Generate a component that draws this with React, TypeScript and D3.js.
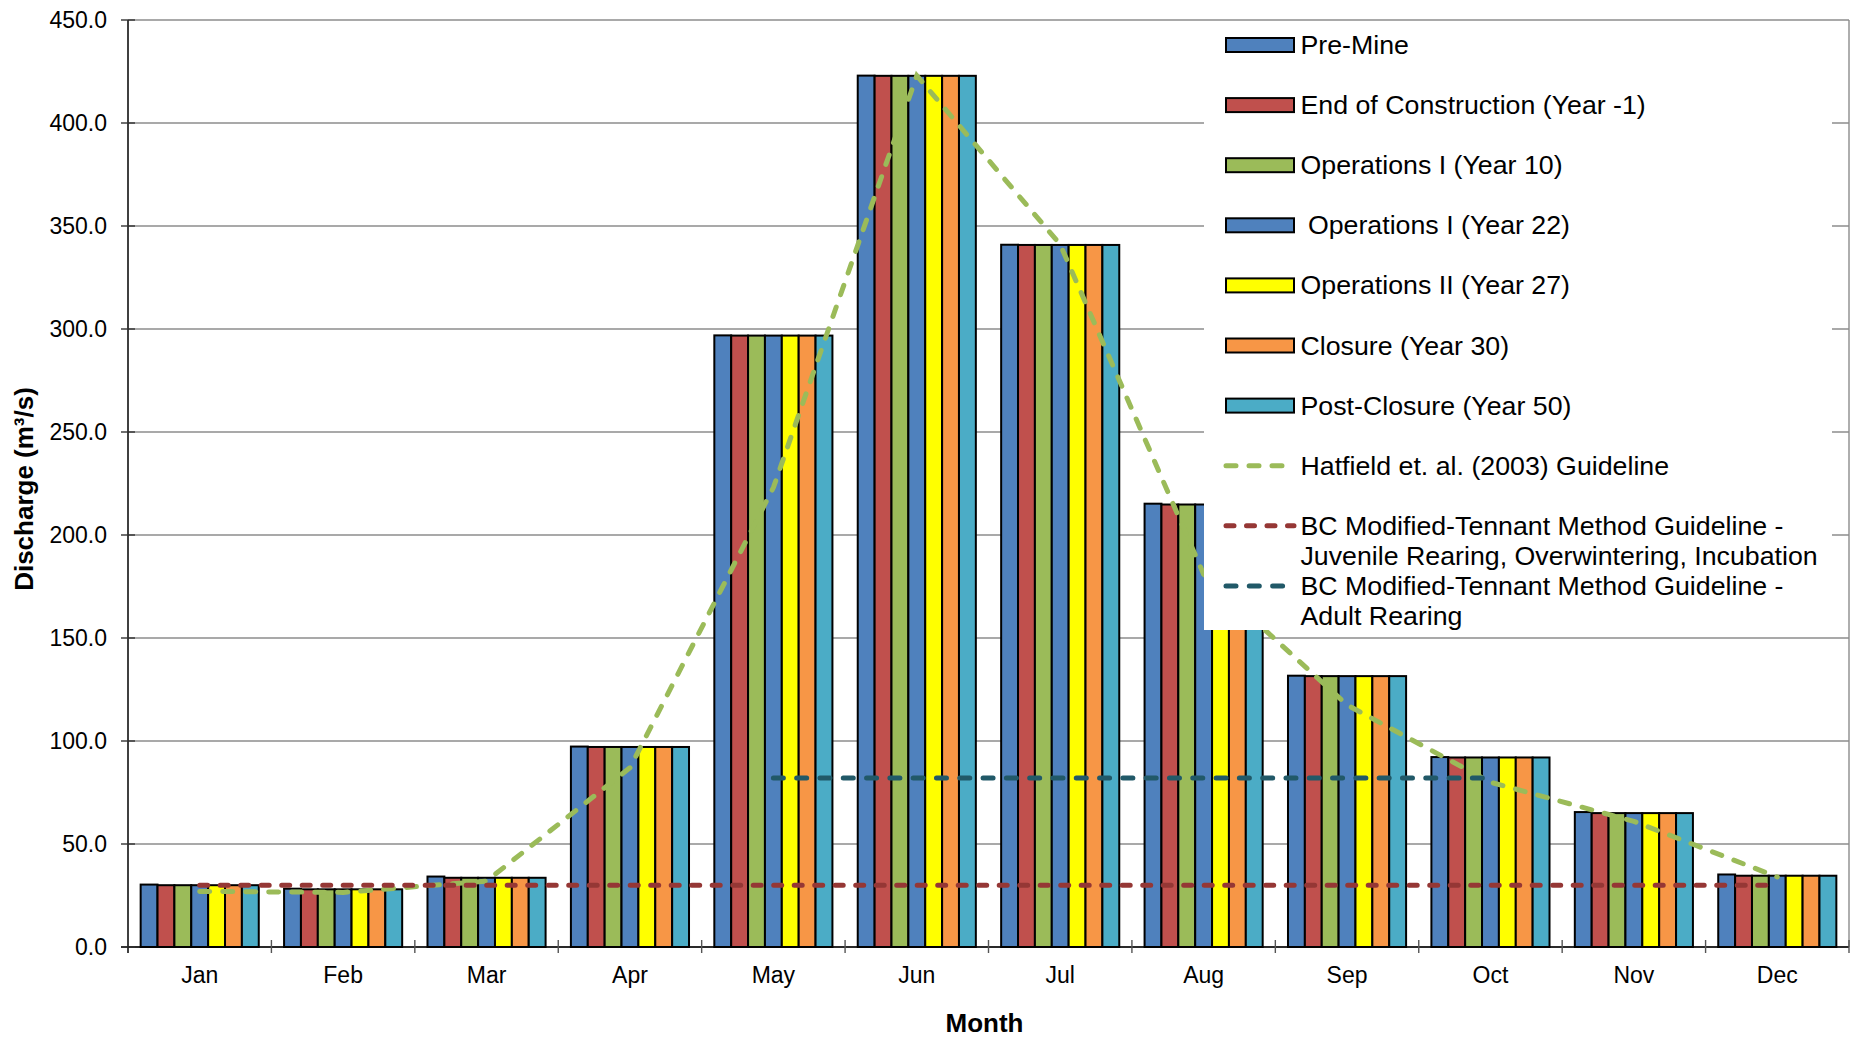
import React from "react";
import * as d3 from "d3";

const months = ["Jan", "Feb", "Mar", "Apr", "May", "Jun", "Jul", "Aug", "Sep", "Oct", "Nov", "Dec"];

const preMine = [30.3, 28.3, 34.2, 97.3, 296.9, 423.0, 340.9, 215.2, 131.7, 92.2, 65.5, 35.2];
const endOfConstruction = [30.0, 28.0, 33.6, 97.1, 296.8, 422.9, 340.8, 214.8, 131.5, 92.0, 65.0, 34.6];
const operationsY10 = [30.0, 28.0, 33.6, 97.1, 296.8, 422.9, 340.8, 214.8, 131.5, 92.0, 65.0, 34.6];
const operationsY22 = [30.0, 28.0, 33.6, 97.1, 296.8, 422.9, 340.8, 214.8, 131.5, 92.0, 65.0, 34.6];
const operationsIIY27 = [30.0, 28.0, 33.6, 97.1, 296.8, 422.9, 340.8, 214.8, 131.5, 92.0, 65.0, 34.6];
const closureY30 = [30.0, 28.0, 33.6, 97.1, 296.8, 422.9, 340.8, 214.8, 131.5, 92.0, 65.0, 34.6];
const postClosureY50 = [30.0, 28.0, 33.6, 97.1, 296.8, 422.9, 340.8, 214.8, 131.5, 92.0, 65.0, 34.6];

const hatfield = [27, 26.5, 32, 87, 223, 423, 341, 181, 117.5, 80, 61, 34];
const tennantJuvenile = [30, 30, 30, 30, 30, 30, 30, 30, 30, 30, 30, 30];
const tennantAdult: (number | null)[] = [null, null, null, null, 82, 82, 82, 82, 82, 82, null, null];

const yTicks = [0, 50, 100, 150, 200, 250, 300, 350, 400, 450];

const barSeries = [
  { name: "Pre-Mine", values: preMine, color: "#4F81BD" },
  { name: "End of Construction (Year -1)", values: endOfConstruction, color: "#C0504D" },
  { name: "Operations I (Year 10)", values: operationsY10, color: "#9BBB59" },
  { name: " Operations I (Year 22)", values: operationsY22, color: "#4F81BD" },
  { name: "Operations II (Year 27)", values: operationsIIY27, color: "#FFFF00" },
  { name: "Closure (Year 30)", values: closureY30, color: "#F79646" },
  { name: "Post-Closure (Year 50)", values: postClosureY50, color: "#4BACC6" },
];

const lineSeries = [
  { name: ["Hatfield et. al. (2003) Guideline"], values: hatfield as (number | null)[], color: "#9BBB59", dash: "10 13" },
  {
    name: ["BC Modified-Tennant Method Guideline -", "Juvenile Rearing, Overwintering, Incubation"],
    values: tennantJuvenile as (number | null)[],
    color: "#953735",
    dash: "8 12.5",
  },
  {
    name: ["BC Modified-Tennant Method Guideline -", "Adult Rearing"],
    values: tennantAdult,
    color: "#215968",
    dash: "10 13.3",
  },
];

const FONT = "'Liberation Sans', Arial, sans-serif";

function LegendText({ x, y, children }: { x: number; y: number; children: React.ReactNode }) {
  return (
    <g transform={`translate(${x},${y}) scale(1.07,1)`}>
      <text x={0} y={0} fontSize={25} fill="#000" style={{ whiteSpace: "pre" }}>
        {children}
      </text>
    </g>
  );
}

export default function App() {
  const L = 128, R = 1849, T = 20, B = 947;
  const y = d3.scaleLinear().domain([0, 450]).range([B, T]);
  const x0 = d3.scaleBand<string>().domain(months).range([L, R]).padding(0);
  const bw = x0.bandwidth();
  const gap = (bw * 0.75) / 8.5;
  const x1 = d3
    .scaleBand<string>()
    .domain(barSeries.map((s) => s.name))
    .range([gap, bw - gap])
    .padding(0);
  const cx = (m: string) => (x0(m) as number) + bw / 2;

  const lineGen = d3
    .line<number | null>()
    .defined((d) => d !== null)
    .x((_, i) => cx(months[i]))
    .y((d) => y(d as number));

  // legend
  const legL = 1204, legT = 21, legR = 1832, legB = 630;
  const swX = 1226, swW = 68, txtX = 1300.5;
  const rowY0 = 45, rowStep = 60.1;

  return (
    <svg
      width={1860}
      height={1040}
      style={{ position: "absolute", left: 0, top: 0, background: "#fff" }}
      fontFamily={FONT}
    >
      <rect x={0} y={0} width={1860} height={1040} fill="#fff" />
      {/* gridlines */}
      {yTicks.map((t) => (
        <line key={"g" + t} x1={L} x2={R} y1={y(t)} y2={y(t)} stroke="#8C8C8C" strokeWidth={1.4} />
      ))}
      {/* right border */}
      <line x1={R} x2={R} y1={T} y2={B} stroke="#8C8C8C" strokeWidth={1.4} />

      {/* bars */}
      {months.map((m, i) => (
        <g key={m} transform={`translate(${x0(m)},0)`}>
          {barSeries.map((s) => (
            <rect
              key={s.name}
              x={x1(s.name)}
              y={y(s.values[i])}
              width={x1.bandwidth()}
              height={y(0) - y(s.values[i])}
              fill={s.color}
              stroke="#000"
              strokeWidth={2}
            />
          ))}
        </g>
      ))}

      {/* lines */}
      {lineSeries.map((s) => (
        <path
          key={s.name[0] + s.color}
          d={lineGen(s.values) || ""}
          fill="none"
          stroke={s.color}
          strokeWidth={5}
          strokeDasharray={s.dash}
          strokeLinecap="round"
        />
      ))}

      {/* axes */}
      <line x1={L} x2={L} y1={T} y2={B + 6} stroke="#000" strokeWidth={1.5} />
      <line x1={L - 7} x2={R} y1={B} y2={B} stroke="#000" strokeWidth={1.5} />
      {yTicks.map((t) => (
        <g key={"yt" + t}>
          <line x1={L - 7} x2={L + 7} y1={y(t)} y2={y(t)} stroke="#333" strokeWidth={1.4} />
          <text x={107} y={y(t) + 8} textAnchor="end" fontSize={23} fill="#000">
            {t.toFixed(1)}
          </text>
        </g>
      ))}
      {months.map((m) => (
        <g key={"xt" + m}>
          <line
            x1={(x0(m) as number) + bw}
            x2={(x0(m) as number) + bw}
            y1={B - 7}
            y2={B + 6}
            stroke="#555"
            strokeWidth={1.4}
          />
          <text x={cx(m)} y={983} textAnchor="middle" fontSize={23} fill="#000">
            {m}
          </text>
        </g>
      ))}

      {/* axis titles */}
      <text x={(L + R) / 2 - 4} y={1032} textAnchor="middle" fontSize={26} fontWeight="bold" fill="#000">
        Month
      </text>
      <text
        transform={`translate(33,${489}) rotate(-90)`}
        textAnchor="middle"
        fontSize={26}
        fontWeight="bold"
        fill="#000"
      >
        Discharge (m³/s)
      </text>

      {/* legend */}
      <rect x={legL} y={legT} width={legR - legL} height={legB - legT} fill="#fff" />
      {barSeries.map((s, i) => {
        const ry = rowY0 + i * rowStep;
        return (
          <g key={"lg" + i}>
            <rect x={swX} y={ry - 7} width={swW} height={14} fill={s.color} stroke="#000" strokeWidth={2} />
            <LegendText x={txtX} y={ry + 9}>
              {s.name}
            </LegendText>
          </g>
        );
      })}
      {lineSeries.map((s, j) => {
        const ry = rowY0 + (barSeries.length + j) * rowStep;
        return (
          <g key={"ll" + j}>
            <line
              x1={swX}
              x2={swX + swW}
              y1={ry}
              y2={ry}
              stroke={s.color}
              strokeWidth={5}
              strokeDasharray={s.dash}
              strokeLinecap="round"
            />
            {s.name.map((t, k) => (
              <LegendText key={k} x={txtX} y={ry + 9 + k * 30}>
                {t}
              </LegendText>
            ))}
          </g>
        );
      })}
    </svg>
  );
}
